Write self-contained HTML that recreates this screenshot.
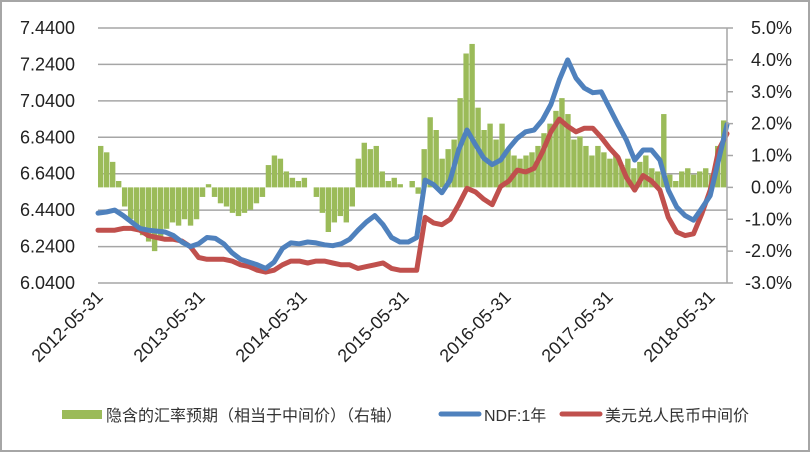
<!DOCTYPE html>
<html><head><meta charset="utf-8">
<style>
html,body{margin:0;padding:0;background:#fff;}
svg{display:block;font-family:"Liberation Sans","Noto Sans CJK SC",sans-serif;}
</style></head>
<body>
<svg id="chart" width="810" height="452" viewBox="0 0 810 452" xmlns="http://www.w3.org/2000/svg">
<rect x="1" y="1" width="808" height="450" fill="#fff" stroke="#a6a6a6" stroke-width="2"/>
<g id="grid"></g>
<g id="bars"></g>
<g id="lines"></g>
<g id="axes"></g>
<g id="legend">
  <rect x="62" y="410" width="40" height="9" fill="#9bbb59"/>
  <text x="106" y="421" font-size="16" fill="#333">隐含的汇率预期（相当于中间价）（右轴）</text>
  <line x1="441" y1="414" x2="479" y2="414" stroke="#4f81bd" stroke-width="5" stroke-linecap="round"/>
  <text x="484" y="421" font-size="16" fill="#333">NDF:1年</text>
  <line x1="562" y1="414" x2="600" y2="414" stroke="#c0504d" stroke-width="5" stroke-linecap="round"/>
  <text x="605" y="421" font-size="16" fill="#333">美元兑人民币中间价</text>
</g>
</svg>
<script>
const leftTicks = ["7.4400","7.2400","7.0400","6.8400","6.6400","6.4400","6.2400","6.0400"];
const rightTicks = ["5.0%","4.0%","3.0%","2.0%","1.0%","0.0%","-1.0%","-2.0%","-3.0%"];
const dateLabels = ["2012-05-31","2013-05-31","2014-05-31","2015-05-31","2016-05-31","2017-05-31","2018-05-31"];
const ndfValues = [6.424,6.43,6.44,6.41,6.375,6.34,6.33,6.325,6.32,6.30,6.265,6.24,6.255,6.29,6.285,6.255,6.205,6.17,6.155,6.14,6.12,6.155,6.23,6.26,6.255,6.265,6.26,6.25,6.245,6.255,6.28,6.33,6.375,6.41,6.36,6.29,6.265,6.265,6.29,6.605,6.58,6.535,6.605,6.77,6.88,6.80,6.725,6.69,6.715,6.78,6.835,6.87,6.88,6.935,7.02,7.155,7.265,7.165,7.11,7.085,7.09,7.0,6.91,6.825,6.715,6.77,6.77,6.715,6.55,6.457,6.41,6.385,6.45,6.52,6.715,6.91];
const cnyValues = [6.33,6.33,6.33,6.34,6.34,6.33,6.30,6.29,6.28,6.28,6.27,6.24,6.18,6.17,6.17,6.17,6.16,6.14,6.13,6.11,6.10,6.11,6.14,6.16,6.16,6.15,6.16,6.16,6.15,6.14,6.14,6.12,6.13,6.14,6.15,6.12,6.11,6.11,6.11,6.40,6.37,6.36,6.39,6.47,6.56,6.54,6.50,6.47,6.57,6.60,6.66,6.65,6.67,6.76,6.87,6.94,6.90,6.87,6.89,6.89,6.84,6.78,6.73,6.62,6.55,6.63,6.60,6.55,6.40,6.32,6.30,6.31,6.42,6.55,6.77,6.86];
const impliedValues = [1.3,1.1,0.8,0.2,-0.6,-1.0,-1.2,-1.5,-1.7,-2.0,-1.6,-1.3,-1.1,-1.2,-1.0,-1.2,-1.0,-0.3,0.1,-0.3,-0.5,-0.6,-0.8,-0.9,-0.8,-0.7,-0.5,-0.3,0.7,1.0,0.9,0.5,0.3,0.2,0.3,0.0,-0.3,-0.8,-1.4,-1.1,-0.9,-1.1,-0.6,0.9,1.4,1.2,1.3,0.5,0.2,0.3,0.1,0.0,0.2,-0.2,1.2,2.2,1.8,0.9,1.2,1.5,2.8,4.2,4.5,2.5,1.8,2.0,1.5,2.0,1.2,1.0,0.9,1.0,1.1,1.3,1.7,2.0,2.4,2.8,2.3,1.5,1.6,1.3,1.0,1.3,1.1,0.9,1.0,0.7,0.9,0.6,0.8,1.0,0.6,0.5,2.3,0.4,0.2,0.5,0.6,0.4,0.5,0.6,0.4,1.3,2.1];

const NS="http://www.w3.org/2000/svg";
const X0=98,X1=727,Y0=28,Y1=283;
const yL=v=>Y1-(v-6.04)/(7.44-6.04)*(Y1-Y0);
const yR=v=>Y1-(v+3)/8*(Y1-Y0);
const xIdx=(i,n)=>X0+i*(X1-X0)/(n-1);
function mk(tag,attrs,parent){const e=document.createElementNS(NS,tag);for(const k in attrs)e.setAttribute(k,attrs[k]);parent.appendChild(e);return e;}
const grid=document.getElementById('grid'),axes=document.getElementById('axes'),bars=document.getElementById('bars'),lines=document.getElementById('lines');

leftTicks.forEach((t,i)=>{
  const y=yL(parseFloat(t));
  const g=mk('line',{x1:X0,x2:X1,y1:y,y2:y,stroke:'#a6a6a6','stroke-width':1.5},grid);
  
  
  const tx=mk('text',{x:75,y:y+6,'text-anchor':'end','font-size':18,fill:'#222'},axes);
  tx.textContent=t;
  
  
});
const ra=mk('line',{x1:X1,x2:X1,y1:Y0,y2:Y1,stroke:'#a6a6a6','stroke-width':1.5},axes);


rightTicks.forEach(t=>{
  const y=yR(parseFloat(t));
  const tk=mk('line',{x1:X1,x2:X1+6,y1:y,y2:y,stroke:'#a6a6a6','stroke-width':1.5},axes);
  
  
  const tx=mk('text',{x:t[0]=='-'?745:751,y:y+6,'font-size':18,fill:'#222'},axes);
  tx.textContent=t;
  
  
});
dateLabels.forEach((t,i)=>{
  const x=X0+i*102+6;
  const tx=mk('text',{x:x,y:298,'text-anchor':'end','font-size':18,fill:'#222',transform:`rotate(-45 ${x} 298)`},axes);
  tx.textContent=t;
  
  
});
const bw=(X1-X0)/impliedValues.length;
const z=yR(0);
impliedValues.forEach((v,i)=>{
  const x=X0+i*bw, y=yR(v);
  const r=mk('rect',{x:x,width:bw-0.6,y:Math.min(y,z),height:Math.abs(z-y),fill:'#9bbb59'},bars);
  
  
});
function line(vals,color,name){
  const d=vals.map((v,i)=>(i?'L':'M')+xIdx(i,vals.length).toFixed(1)+' '+yL(v).toFixed(1)).join(' ');
  const p=mk('path',{d:d,fill:'none',stroke:color,'stroke-width':5,'stroke-linejoin':'round','stroke-linecap':'round'},lines);
  
  
}
line(cnyValues,'#c0504d','cny-central-parity-line');
line(ndfValues,'#4f81bd','ndf-1y-line');
</script>
</body></html>
